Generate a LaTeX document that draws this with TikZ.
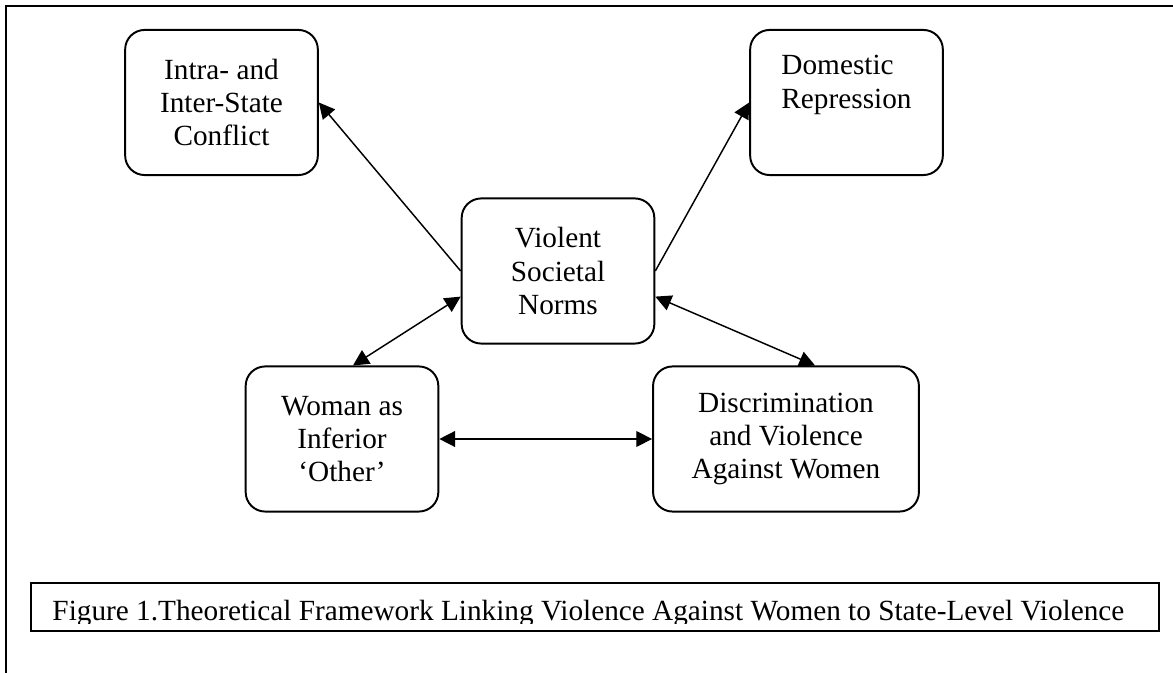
\documentclass[tikz,border=0pt]{standalone}
\usepackage{fontspec}
\setmainfont{Liberation Serif}
\usetikzlibrary{arrows.meta}
\tikzset{
  box/.style={draw, line width=0.8pt, rounded corners=8pt, minimum width=79pt,
    minimum height=59.5pt, inner xsep=1pt, align=center, font=\fontsize{12}{13.6}\selectfont},
  link/.style={line width=0.6pt},
  >={Triangle[length=6.5pt,width=6.5pt]}
}
\begin{document}
\begin{tikzpicture}[x=0.41pt, y=-0.41pt]
  \useasboundingbox (0,0) rectangle (1173,673);
  \draw[line width=1pt] (1173,6) -- (6,6) -- (6,673);
  % the five boxes
  \node[box] (intra) at (221.5,102.5) {Intra- and\\Inter-State\\Conflict};
  \node[box, align=left, text depth=17pt] (dom) at (846.5,102.5) {Domestic\\Repression};
  \node[box] (norms) at (558,271) {Violent\\Societal\\Norms};
  \node[box] (woman) at (342,439) {Woman as\\Inferior\\`Other'};
  \node[box, minimum width=109pt] (disc) at (786,439) {Discrimination\\and Violence\\Against Women};
  % links
  \draw[link, ->] (norms.west) -- (intra.east);
  \draw[link, ->] (norms.east) -- (dom.west);
  \draw[link, <->] ([xshift=4.5pt]woman.north) -- ([yshift=-10.5pt]norms.west);
  \draw[link, <->] ([yshift=-10.5pt]norms.east) -- ([xshift=11.9pt]disc.north);
  \draw[link, <->] (woman) -- (disc);
  % caption
  \node[draw, line width=0.8pt, minimum width=462.5pt, minimum height=19.7pt, inner sep=0pt] (cap) at (595,607) {};
  \begin{scope}
    \clip (31,583) rectangle (1159,624);
    \node[anchor=base west, inner sep=0pt, font=\fontsize{12}{13.6}\selectfont] (captext) at (52,620)
      {Figure 1.Theoretical Framework Linking Violence Against Women to State-Level Violence};
  \end{scope}
\end{tikzpicture}
\end{document}
